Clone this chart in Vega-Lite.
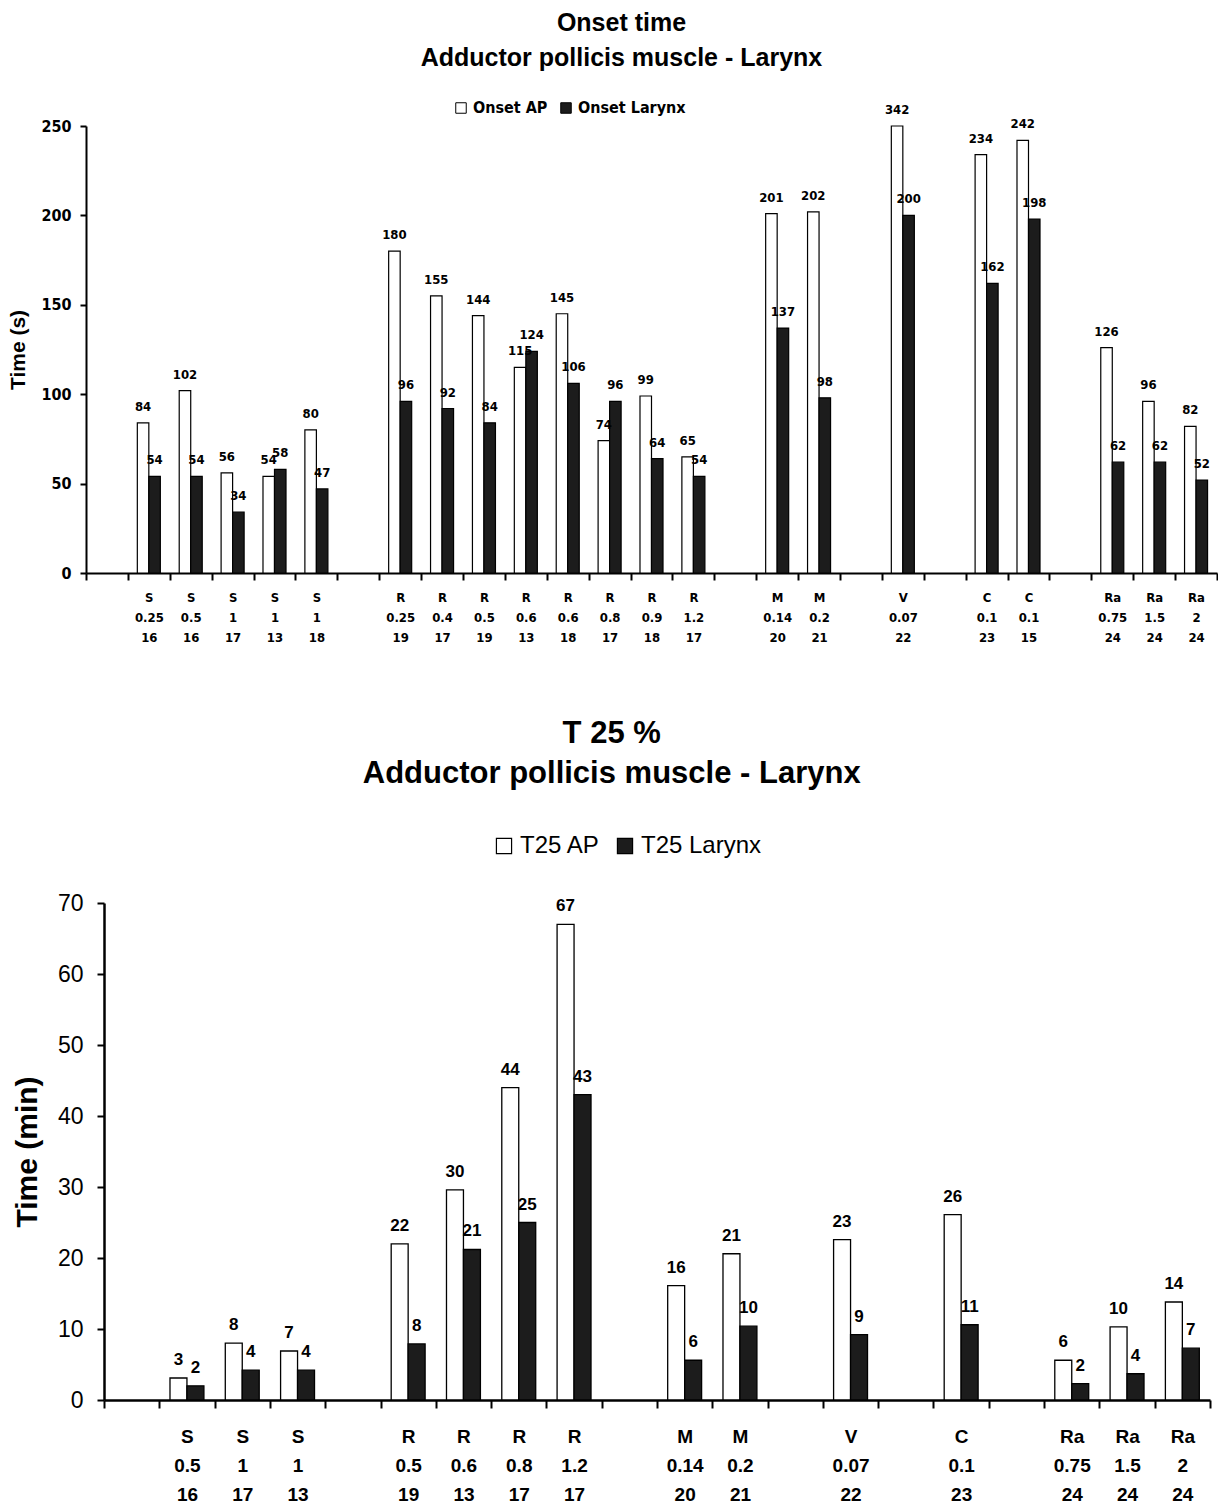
{
  "$schema": "https://vega.github.io/schema/vega-lite/v6.json",
  "padding": {"left": 7, "top": 11, "right": 0, "bottom": 0},
  "background": "white",
  "columns": 1,
  "spacing": 74,
  "resolve": {"scale": {"color": "independent", "xOffset": "independent"}, "legend": {"color": "independent"}},
  "config": {
    "view": {"stroke": null},
    "axis": {"grid": false, "domainColor": "black", "tickColor": "black", "labelColor": "black", "titleColor": "black"},
    "title": {"color": "black", "anchor": "middle", "frame": "bounds"}
  },
  "datasets": {
    "onset": [
      {"slot": "S|0.25|16", "series": "Onset AP", "value": 84},
      {"slot": "S|0.25|16", "series": "Onset Larynx", "value": 54},
      {"slot": "S|0.5|16", "series": "Onset AP", "value": 102},
      {"slot": "S|0.5|16", "series": "Onset Larynx", "value": 54},
      {"slot": "S|1|17", "series": "Onset AP", "value": 56},
      {"slot": "S|1|17", "series": "Onset Larynx", "value": 34},
      {"slot": "S|1|13", "series": "Onset AP", "value": 54},
      {"slot": "S|1|13", "series": "Onset Larynx", "value": 58},
      {"slot": "S|1|18", "series": "Onset AP", "value": 80},
      {"slot": "S|1|18", "series": "Onset Larynx", "value": 47},
      {"slot": "R|0.25|19", "series": "Onset AP", "value": 180},
      {"slot": "R|0.25|19", "series": "Onset Larynx", "value": 96},
      {"slot": "R|0.4|17", "series": "Onset AP", "value": 155},
      {"slot": "R|0.4|17", "series": "Onset Larynx", "value": 92},
      {"slot": "R|0.5|19", "series": "Onset AP", "value": 144},
      {"slot": "R|0.5|19", "series": "Onset Larynx", "value": 84},
      {"slot": "R|0.6|13", "series": "Onset AP", "value": 115},
      {"slot": "R|0.6|13", "series": "Onset Larynx", "value": 124},
      {"slot": "R|0.6|18", "series": "Onset AP", "value": 145},
      {"slot": "R|0.6|18", "series": "Onset Larynx", "value": 106},
      {"slot": "R|0.8|17", "series": "Onset AP", "value": 74},
      {"slot": "R|0.8|17", "series": "Onset Larynx", "value": 96},
      {"slot": "R|0.9|18", "series": "Onset AP", "value": 99},
      {"slot": "R|0.9|18", "series": "Onset Larynx", "value": 64},
      {"slot": "R|1.2|17", "series": "Onset AP", "value": 65},
      {"slot": "R|1.2|17", "series": "Onset Larynx", "value": 54},
      {"slot": "M|0.14|20", "series": "Onset AP", "value": 201},
      {"slot": "M|0.14|20", "series": "Onset Larynx", "value": 137},
      {"slot": "M|0.2|21", "series": "Onset AP", "value": 202},
      {"slot": "M|0.2|21", "series": "Onset Larynx", "value": 98},
      {"slot": "V|0.07|22", "series": "Onset AP", "value": 342},
      {"slot": "V|0.07|22", "series": "Onset Larynx", "value": 200},
      {"slot": "C|0.1|23", "series": "Onset AP", "value": 234},
      {"slot": "C|0.1|23", "series": "Onset Larynx", "value": 162},
      {"slot": "C|0.1|15", "series": "Onset AP", "value": 242},
      {"slot": "C|0.1|15", "series": "Onset Larynx", "value": 198},
      {"slot": "Ra|0.75|24", "series": "Onset AP", "value": 126},
      {"slot": "Ra|0.75|24", "series": "Onset Larynx", "value": 62},
      {"slot": "Ra|1.5|24", "series": "Onset AP", "value": 96},
      {"slot": "Ra|1.5|24", "series": "Onset Larynx", "value": 62},
      {"slot": "Ra|2|24", "series": "Onset AP", "value": 82},
      {"slot": "Ra|2|24", "series": "Onset Larynx", "value": 52}
    ],
    "t25": [
      {"slot": "S|0.5|16", "series": "T25 AP", "value": 3.1},
      {"slot": "S|0.5|16", "series": "T25 Larynx", "value": 2.0},
      {"slot": "S|1|17", "series": "T25 AP", "value": 8.0},
      {"slot": "S|1|17", "series": "T25 Larynx", "value": 4.2},
      {"slot": "S|1|13", "series": "T25 AP", "value": 6.9},
      {"slot": "S|1|13", "series": "T25 Larynx", "value": 4.2},
      {"slot": "R|0.5|19", "series": "T25 AP", "value": 22.0},
      {"slot": "R|0.5|19", "series": "T25 Larynx", "value": 7.9},
      {"slot": "R|0.6|13", "series": "T25 AP", "value": 29.6},
      {"slot": "R|0.6|13", "series": "T25 Larynx", "value": 21.2},
      {"slot": "R|0.8|17", "series": "T25 AP", "value": 44.0},
      {"slot": "R|0.8|17", "series": "T25 Larynx", "value": 25.0},
      {"slot": "R|1.2|17", "series": "T25 AP", "value": 67.0},
      {"slot": "R|1.2|17", "series": "T25 Larynx", "value": 43.0},
      {"slot": "M|0.14|20", "series": "T25 AP", "value": 16.1},
      {"slot": "M|0.14|20", "series": "T25 Larynx", "value": 5.6},
      {"slot": "M|0.2|21", "series": "T25 AP", "value": 20.6},
      {"slot": "M|0.2|21", "series": "T25 Larynx", "value": 10.4},
      {"slot": "V|0.07|22", "series": "T25 AP", "value": 22.6},
      {"slot": "V|0.07|22", "series": "T25 Larynx", "value": 9.2},
      {"slot": "C|0.1|23", "series": "T25 AP", "value": 26.1},
      {"slot": "C|0.1|23", "series": "T25 Larynx", "value": 10.6},
      {"slot": "Ra|0.75|24", "series": "T25 AP", "value": 5.6},
      {"slot": "Ra|0.75|24", "series": "T25 Larynx", "value": 2.3},
      {"slot": "Ra|1.5|24", "series": "T25 AP", "value": 10.3},
      {"slot": "Ra|1.5|24", "series": "T25 Larynx", "value": 3.7},
      {"slot": "Ra|2|24", "series": "T25 AP", "value": 13.8},
      {"slot": "Ra|2|24", "series": "T25 Larynx", "value": 7.3}
    ]
  },
  "concat": [
    {
      "width": 1113,
      "height": 447,
      "title": {"text": ["Onset time", "Adductor pollicis muscle - Larynx"], "font": "Liberation Sans", "fontSize": 25, "fontWeight": "bold", "lineHeight": 35, "offset": 29},
      "data": {"name": "onset"},
      "encoding": {
        "x": {
          "field": "slot", "type": "nominal", "sort": null,
          "scale": {"domain": ["_a","S|0.25|16","S|0.5|16","S|1|17","S|1|13","S|1|18","_b","R|0.25|19","R|0.4|17","R|0.5|19","R|0.6|13","R|0.6|18","R|0.8|17","R|0.9|18","R|1.2|17","_c","M|0.14|20","M|0.2|21","_d","V|0.07|22","_e","C|0.1|23","C|0.1|15","_f","Ra|0.75|24","Ra|1.5|24","Ra|2|24"], "paddingInner": 0, "paddingOuter": 0, "range": [-18, 1113]},
          "axis": {"title": null, "labelAngle": 0, "tickBand": "extent", "tickSize": 7, "tickWidth": 2, "domainWidth": 2, "labelPadding": 11, "labelBaseline": "top", "labelLineHeight": 20, "labelFont": "DejaVu Sans Condensed", "labelFontSize": 13, "labelFontWeight": "bold",
            "labelExpr": "isString(datum.value) && indexof(datum.value, '_') != 0 ? split(datum.value, '|') : ''"}
        },
        "xOffset": {"field": "series", "type": "nominal", "scale": {"domain": ["Onset AP", "Onset Larynx"], "paddingInner": 0, "paddingOuter": 0.82}},
        "y": {
          "field": "value", "type": "quantitative",
          "scale": {"domain": [0, 250], "clamp": true, "nice": false},
          "axis": {"title": "Time (s)", "offset": 18, "values": [0, 50, 100, 150, 200, 250], "tickSize": 6, "tickWidth": 2, "domainWidth": 2, "labelPadding": 9, "labelFont": "DejaVu Sans Condensed", "labelFontSize": 16, "labelFontWeight": "bold", "titleFont": "Liberation Sans", "titleFontSize": 21, "titleFontWeight": "bold", "titlePadding": 12}
        }
      },
      "layer": [
        {
          "mark": {"type": "bar", "stroke": "black", "strokeWidth": 1.2},
          "encoding": {
            "color": {"field": "series", "type": "nominal", "scale": {"domain": ["Onset AP", "Onset Larynx"], "range": ["white", "#1c1c1c"]},
              "legend": {"title": null, "orient": "none", "legendX": 349, "legendY": -26, "direction": "horizontal", "symbolType": "square", "symbolSize": 110, "symbolStrokeColor": "black", "symbolStrokeWidth": 1, "labelFont": "DejaVu Sans Condensed", "labelFontSize": 16, "labelFontWeight": "bold", "labelColor": "black", "columnPadding": 10, "labelOffset": 4}}
          }
        },
        {
          "mark": {"type": "text", "baseline": "bottom", "dy": -9, "color": "black", "font": "DejaVu Sans Condensed", "fontSize": 13, "fontWeight": "bold"},
          "encoding": {"text": {"field": "value", "type": "quantitative", "format": ".0f"}}
        }
      ]
    },
    {
      "width": 1106,
      "height": 497,
      "title": {"text": ["T 25 %", "Adductor pollicis muscle - Larynx"], "font": "Liberation Sans", "fontSize": 31, "fontWeight": "bold", "lineHeight": 40, "offset": 44},
      "data": {"name": "t25"},
      "encoding": {
        "x": {
          "field": "slot", "type": "nominal", "sort": null,
          "scale": {"domain": ["_a","S|0.5|16","S|1|17","S|1|13","_b","R|0.5|19","R|0.6|13","R|0.8|17","R|1.2|17","_c","M|0.14|20","M|0.2|21","_d","V|0.07|22","_e","C|0.1|23","_f","Ra|0.75|24","Ra|1.5|24","Ra|2|24"], "paddingInner": 0, "paddingOuter": 0},
          "axis": {"title": null, "labelAngle": 0, "tickBand": "extent", "tickSize": 8, "tickWidth": 2, "domainWidth": 2.5, "labelPadding": 19, "labelBaseline": "top", "labelLineHeight": 29, "labelFont": "Liberation Sans", "labelFontSize": 19, "labelFontWeight": "bold",
            "labelExpr": "isString(datum.value) && indexof(datum.value, '_') != 0 ? split(datum.value, '|') : ''"}
        },
        "xOffset": {"field": "series", "type": "nominal", "scale": {"domain": ["T25 AP", "T25 Larynx"], "paddingInner": 0, "paddingOuter": 0.63}},
        "y": {
          "field": "value", "type": "quantitative",
          "scale": {"domain": [0, 70], "nice": false},
          "axis": {"title": "Time (min)", "values": [0, 10, 20, 30, 40, 50, 60, 70], "tickSize": 7, "tickWidth": 2, "domainWidth": 2.5, "labelPadding": 14, "labelFont": "Liberation Sans", "labelFontSize": 23, "labelFontWeight": "normal", "titleFont": "Liberation Sans", "titleFontSize": 30, "titleFontWeight": "bold", "titlePadding": 15}
        }
      },
      "layer": [
        {
          "mark": {"type": "bar", "stroke": "black", "strokeWidth": 1.3},
          "encoding": {
            "color": {"field": "series", "type": "nominal", "scale": {"domain": ["T25 AP", "T25 Larynx"], "range": ["white", "#1c1c1c"]},
              "legend": {"title": null, "orient": "none", "legendX": 388, "legendY": -69, "direction": "horizontal", "symbolType": "square", "symbolSize": 230, "symbolStrokeColor": "black", "symbolStrokeWidth": 1.2, "labelFont": "Liberation Sans", "labelFontSize": 24, "labelColor": "black", "columnPadding": 12, "labelOffset": 4}}
          }
        },
        {
          "mark": {"type": "text", "baseline": "bottom", "dy": -9, "color": "black", "font": "Liberation Sans", "fontSize": 17, "fontWeight": "bold"},
          "encoding": {"text": {"field": "value", "type": "quantitative", "format": ".0f"}}
        }
      ]
    }
  ]
}
